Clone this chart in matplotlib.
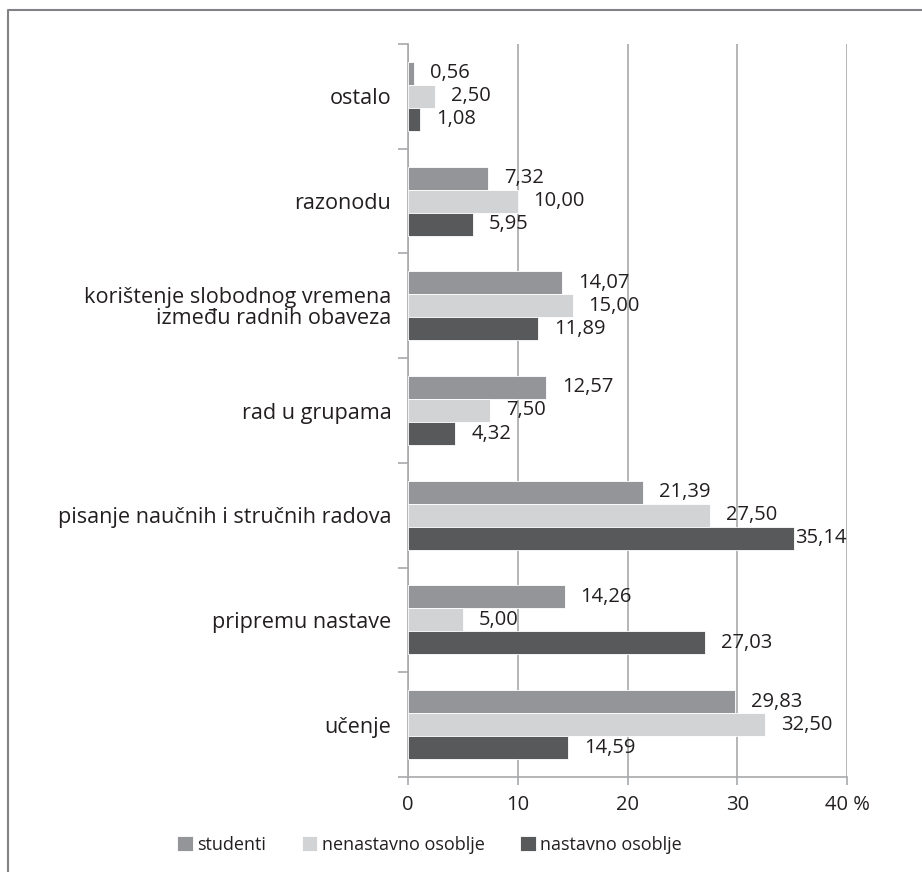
import numpy as np
import matplotlib.pyplot as plt
from matplotlib.lines import Line2D

plt.rcParams['font.family'] = ['Open Sans', 'DejaVu Sans']

categories = ['učenje', 'pripremu nastave', 'pisanje naučnih i stručnih radova',
              'rad u grupama', 'korištenje slobodnog vremena\nizmeđu radnih obaveza',
              'razonodu', 'ostalo']
studenti = [29.83, 14.26, 21.39, 12.57, 14.07, 7.32, 0.56]
nenastavno = [32.50, 5.00, 27.50, 7.50, 15.00, 10.00, 2.50]
nastavno = [14.59, 27.03, 35.14, 4.32, 11.89, 5.95, 1.08]
series = [('studenti', studenti, '#939598'),
          ('nenastavno osoblje', nenastavno, '#d1d3d4'),
          ('nastavno osoblje', nastavno, '#58595b')]
xticks = [0, 10, 20, 30, 40]
xticklabels = ['0', '10', '20', '30', '40 %']

W, H = 922, 872
fs = 14.5
fig = plt.figure(figsize=(W / 100, H / 100), dpi=100)
ax = fig.add_axes([408 / W, 1 - 777 / H, (847 - 408) / W, (777 - 44) / H])

txt = '#231f20'
grey = '#a7a9ac'
y = np.arange(len(categories))
h = 0.22
for k, (name, vals, col) in enumerate(series):
    pos = y + h * (1 - k)
    ax.barh(pos, vals, height=h, color=col, edgecolor='white', linewidth=0.6,
            label=name, zorder=3)
    for p, v in zip(pos, vals):
        lx = min(v + 1.45, 40 - 4.7)
        ax.text(lx, p, f'{v:.2f}'.replace('.', ','), va='center', ha='left',
                fontsize=fs, color=txt, zorder=4)

ax.set_xlim(0, 40)
ax.set_ylim(-0.5, len(categories) - 0.5)
ax.set_xticks(xticks)
ax.set_xticklabels(xticklabels, fontsize=fs, color=txt)
ax.set_yticks(y)
ax.set_yticklabels(categories, fontsize=15.6, color=txt, linespacing=1.0)
ax.set_yticks(np.arange(len(categories) + 1) - 0.5, minor=True)
ax.tick_params(axis='y', which='major', length=0, pad=12)
ax.tick_params(axis='y', which='minor', length=7.5, width=1.2, color=grey)
ax.tick_params(axis='x', length=6, width=1.2, color=grey, pad=7)
for lab in ax.get_yticklabels():
    lab.set_horizontalalignment('right')

ax.grid(axis='x', color=grey, linewidth=1.2, zorder=0)
for s in ['top', 'right']:
    ax.spines[s].set_visible(False)
for s in ['left', 'bottom']:
    ax.spines[s].set_color(grey)
    ax.spines[s].set_linewidth(1.2)

fig.legend(loc='center', bbox_to_anchor=(0.466, 1 - 845 / H), ncol=3,
           frameon=False, fontsize=13, handlelength=0.88, handleheight=0.88,
           handletextpad=0.25, columnspacing=1.95, labelcolor=txt)

fig.add_artist(Line2D([8 / W, 8 / W, 1], [0, 1 - 10 / H, 1 - 10 / H],
                      transform=fig.transFigure, color='#808285', linewidth=1.5))

fig.savefig('out.png', dpi=100)
